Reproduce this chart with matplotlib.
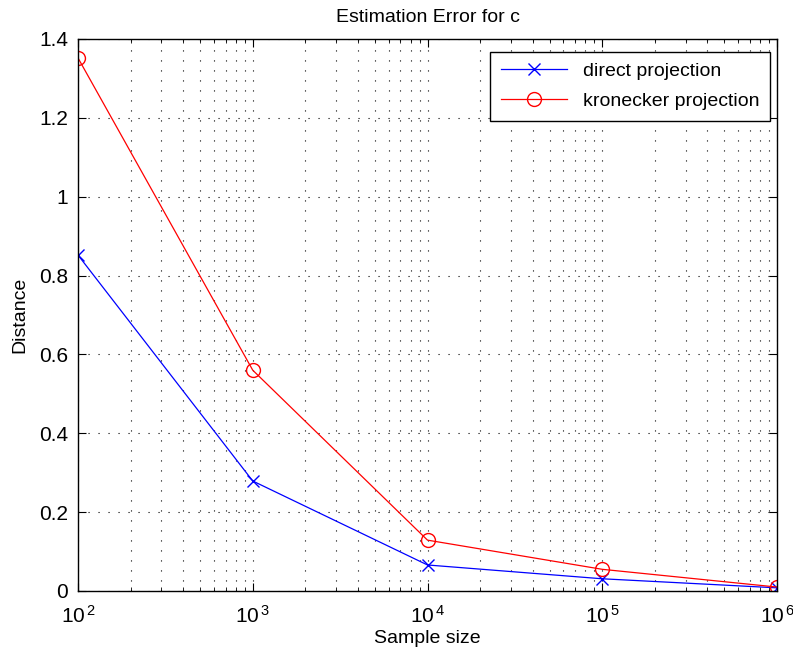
import numpy as np
import matplotlib.pyplot as plt
from matplotlib.ticker import LogLocator, MultipleLocator, NullFormatter

plt.rcParams["font.family"] = ["Liberation Sans", "DejaVu Sans"]
plt.rcParams["mathtext.fontset"] = "custom"
plt.rcParams["mathtext.rm"] = "Liberation Sans"
plt.rcParams["mathtext.it"] = "Liberation Sans"

# 数据
sample_size = [1e2, 1e3, 1e4, 1e5, 1e6]
direct_err = [0.852, 0.279, 0.066, 0.031, 0.008]
kron_err = [1.352, 0.560, 0.129, 0.055, 0.010]

fig = plt.figure(figsize=(7.93, 6.56), dpi=100)
ax = fig.add_axes([78 / 793, 65 / 656, 699 / 793, 552 / 656])

ax.plot(sample_size, direct_err, color="blue", marker="x", markersize=8,
        linewidth=0.9, label="direct projection")
ax.plot(sample_size, kron_err, color="red", marker="o", markersize=10,
        markerfacecolor="none", linewidth=0.9, label="kronecker projection")

ax.set_xscale("log")
ax.set_xlim(1e2, 1e6)
ax.set_ylim(0, 1.4)
ax.yaxis.set_major_locator(MultipleLocator(0.2))
ax.yaxis.set_major_formatter(plt.FuncFormatter(lambda v, p: f"{v:g}"))
ax.xaxis.set_major_formatter(
    plt.FuncFormatter(lambda v, p: "$10^{\\,%d}$" % round(np.log10(v))))
ax.xaxis.set_minor_locator(LogLocator(base=10, subs=np.arange(2, 10)))
ax.xaxis.set_minor_formatter(NullFormatter())

ax.grid(which="major", color="black", linestyle=(0, (1, 8)), linewidth=0.8)
ax.grid(which="minor", axis="x", color="black", linestyle=(0, (1, 8)), linewidth=0.8)

ax.tick_params(which="both", direction="in", top=True, right=True, labelsize=15)
ax.tick_params(which="major", length=6)
ax.tick_params(which="minor", length=3)
ax.tick_params(axis="x", which="major", pad=10)
ax.tick_params(axis="y", which="major", pad=7)
for s in ax.spines.values():
    s.set_linewidth(1.0)

ax.set_title("Estimation Error for c", fontsize=14, pad=12)
ax.set_xlabel("Sample size", fontsize=14, labelpad=2)
ax.set_ylabel("Distance", fontsize=14, labelpad=8)

leg = ax.legend(loc="upper right", bbox_to_anchor=(0.99, 0.977),
                fontsize=14, fancybox=False, framealpha=1,
                edgecolor="black", borderaxespad=0, handlelength=3.4,
                borderpad=0.55, labelspacing=0.65)
leg.get_frame().set_linewidth(1.0)

fig.savefig("out.png", dpi=100)
